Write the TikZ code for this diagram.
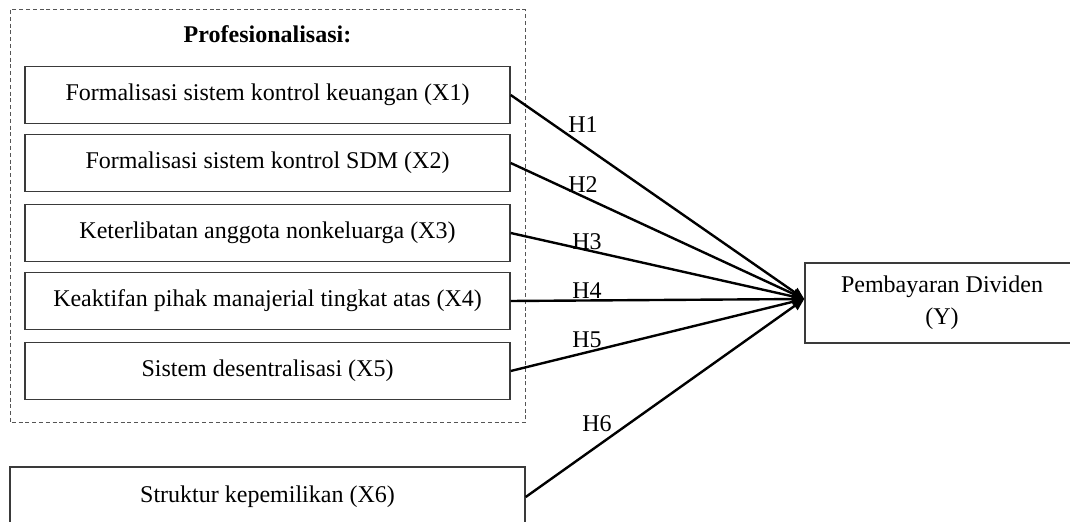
\documentclass[tikz,border=0pt,12pt]{standalone}
\usepackage{fontspec}
\setmainfont{Liberation Serif}
\usepackage{tikz}
\usetikzlibrary{arrows.meta,positioning}
\tikzset{>={Triangle[length=6pt,width=5pt]}}
\definecolor{boxline}{HTML}{3A3A3A}
\definecolor{grpline}{HTML}{555555}
\tikzset{
  var/.style={draw=boxline,line width=0.7pt,minimum width=242.5pt,minimum height=28.5pt,
    inner sep=0pt,font=\fontsize{12}{14}\selectfont},
  grp/.style={draw=grpline,line width=0.5pt,dash pattern=on 2pt off 1.4pt},
  hyp/.style={->,line width=1.2pt},
  hlab/.style={inner sep=0pt,font=\fontsize{12}{14}\selectfont}
}

\begin{document}
\begin{tikzpicture}[x=0.5pt,y=-0.5pt]
\useasboundingbox (0,0) rectangle (1070,522);
\clip (0,0) rectangle (1070,522);
\fill[white] (0,0) rectangle (1070,522);
% group of profesionalisasi variables
\draw[grp] (10,10) rectangle (525,423);
\node[inner sep=0pt,font=\fontsize{12}{14}\selectfont\bfseries] (grptitle) at (267.5,34) {Profesionalisasi:};
\node[var] (x1) at (267.5,95)  {Formalisasi sistem kontrol keuangan (X1)};
\node[var] (x2) at (267.5,163) {Formalisasi sistem kontrol SDM (X2)};
\node[var] (x3) at (267.5,233) {Keterlibatan anggota nonkeluarga (X3)};
\node[var] (x4) at (267.5,301) {Keaktifan pihak manajerial tingkat atas (X4)};
\node[var] (x5) at (267.5,371) {Sistem desentralisasi (X5)};
\node[var,minimum width=257.5pt,minimum height=30pt] (x6) at (267.5,497) {Struktur kepemilikan (X6)};
% dependent variable
\node[var,minimum width=137pt,minimum height=40pt,align=center,
  font=\fontsize{12}{16}\selectfont] (y) at (942,303) {Pembayaran Dividen\\(Y)};
\coordinate (hub) at ([yshift=2pt]y.west);
% hypotheses
\foreach \x in {x1,x2,x3,x4,x5,x6}
  \draw[hyp] (\x.east) -- (hub);
\node[hlab] (h1) at (583,125) {H1};
\node[hlab] (h2) at (583,185) {H2};
\node[hlab] (h3) at (587,242) {H3};
\node[hlab] (h4) at (587,291) {H4};
\node[hlab] (h5) at (587,340) {H5};
\node[hlab] (h6) at (597,424) {H6};
\end{tikzpicture}
\end{document}
